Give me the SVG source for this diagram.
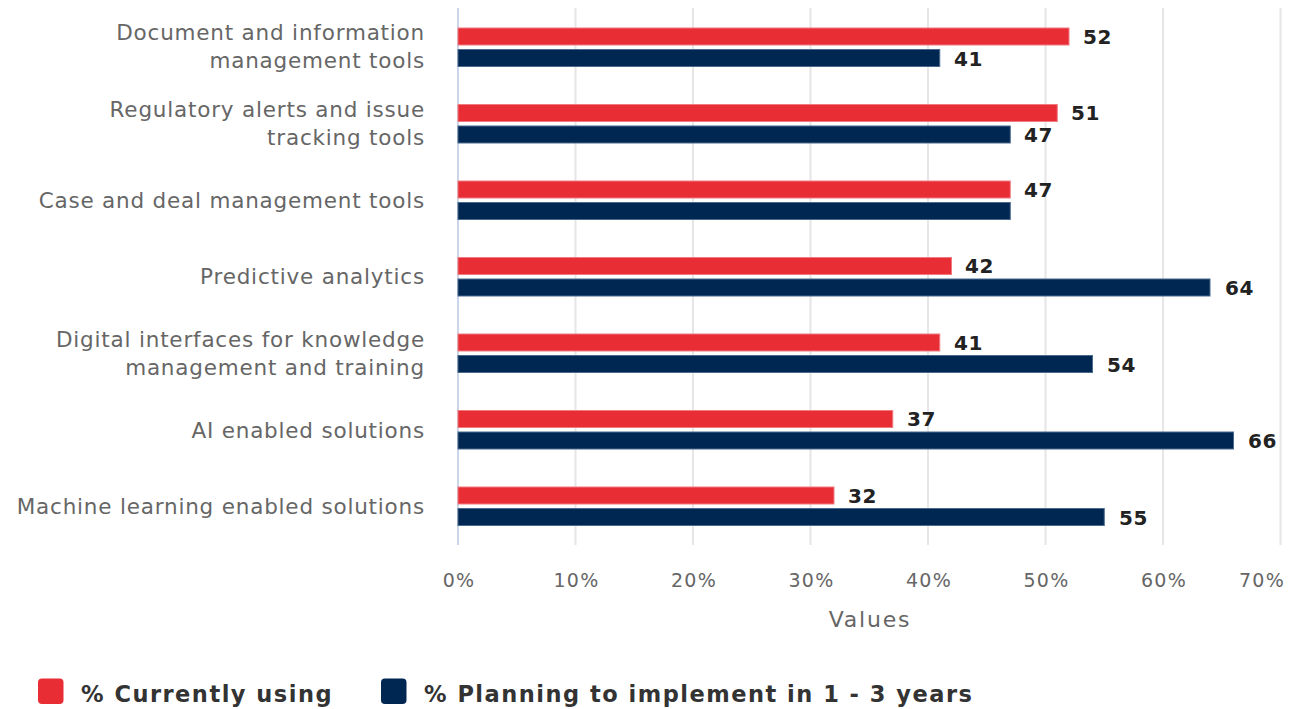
<svg xmlns="http://www.w3.org/2000/svg" width="1305" height="709" viewBox="0 0 1305 709">
<style>
.grid{stroke:#e6e6e6;stroke-width:2}
.axis{stroke:#ccd6eb;stroke-width:2}
.cat{font-family:"DejaVu Sans",sans-serif;font-size:21.5px;letter-spacing:0.8px;fill:#666;text-anchor:end}
.tick{font-family:"DejaVu Sans",sans-serif;font-size:19px;letter-spacing:1.2px;fill:#666;text-anchor:middle}
.title{font-family:"DejaVu Sans",sans-serif;font-size:22px;letter-spacing:1.8px;fill:#666;text-anchor:middle}
.val{font-family:"DejaVu Sans",sans-serif;font-size:20px;letter-spacing:0.6px;font-weight:bold;fill:#222}
.leg{font-family:"DejaVu Sans",sans-serif;font-size:22.5px;letter-spacing:1.5px;font-weight:bold;fill:#333}
.red{fill:#e92d35;stroke:#f07a80;stroke-width:1}
.blue{fill:#002652;stroke:#4a6a8f;stroke-width:1}
</style>
<rect width="1305" height="709" fill="#fff"/>
<g id="grid">
<line class="grid" x1="575.5" y1="8" x2="575.5" y2="545"/>
<line class="grid" x1="693" y1="8" x2="693" y2="545"/>
<line class="grid" x1="810.5" y1="8" x2="810.5" y2="545"/>
<line class="grid" x1="928" y1="8" x2="928" y2="545"/>
<line class="grid" x1="1045.5" y1="8" x2="1045.5" y2="545"/>
<line class="grid" x1="1163" y1="8" x2="1163" y2="545"/>
<line class="grid" x1="1280.5" y1="8" x2="1280.5" y2="545"/>
<line class="axis" x1="458" y1="8" x2="458" y2="545"/>
</g>
<g id="categories">
<text class="cat" x="425" y="40">Document and information</text>
<text class="cat" x="425" y="68">management tools</text>
<text class="cat" x="425" y="117">Regulatory alerts and issue</text>
<text class="cat" x="425" y="145">tracking tools</text>
<text class="cat" x="425" y="208">Case and deal management tools</text>
<text class="cat" x="425" y="284">Predictive analytics</text>
<text class="cat" x="425" y="347">Digital interfaces for knowledge</text>
<text class="cat" x="425" y="375">management and training</text>
<text class="cat" x="425" y="438">AI enabled solutions</text>
<text class="cat" x="425" y="514">Machine learning enabled solutions</text>
</g>
<g id="bars">
<rect class="red" x="458" y="28" width="611" height="17"/>
<rect class="blue" x="458" y="49.5" width="481.75" height="17"/>
<rect class="red" x="458" y="104.5" width="599.25" height="17"/>
<rect class="blue" x="458" y="126" width="552.25" height="17"/>
<rect class="red" x="458" y="181" width="552.25" height="17"/>
<rect class="blue" x="458" y="202.5" width="552.25" height="17"/>
<rect class="red" x="458" y="257.5" width="493.5" height="17"/>
<rect class="blue" x="458" y="279" width="752" height="17"/>
<rect class="red" x="458" y="334" width="481.75" height="17"/>
<rect class="blue" x="458" y="355.5" width="634.5" height="17"/>
<rect class="red" x="458" y="410.5" width="434.75" height="17"/>
<rect class="blue" x="458" y="432" width="775.5" height="17"/>
<rect class="red" x="458" y="487" width="376" height="17"/>
<rect class="blue" x="458" y="508.5" width="646.25" height="17"/>
</g>
<g id="values">
<text class="val" x="1083" y="44">52</text>
<text class="val" x="954" y="66">41</text>
<text class="val" x="1071" y="120">51</text>
<text class="val" x="1024" y="142">47</text>
<text class="val" x="1024" y="197">47</text>
<text class="val" x="965" y="273">42</text>
<text class="val" x="1225" y="295">64</text>
<text class="val" x="954" y="350">41</text>
<text class="val" x="1107" y="372">54</text>
<text class="val" x="907" y="426">37</text>
<text class="val" x="1248" y="448">66</text>
<text class="val" x="848" y="503">32</text>
<text class="val" x="1119" y="525">55</text>
</g>
<g id="xaxis">
<text class="tick" x="459" y="587">0%</text>
<text class="tick" x="576.5" y="587">10%</text>
<text class="tick" x="694" y="587">20%</text>
<text class="tick" x="811.5" y="587">30%</text>
<text class="tick" x="929" y="587">40%</text>
<text class="tick" x="1046.5" y="587">50%</text>
<text class="tick" x="1164" y="587">60%</text>
<text class="tick" x="1262" y="587">70%</text>
<text class="title" x="870" y="627">Values</text>
</g>
<g id="legend">
<rect x="38" y="678.5" width="25.5" height="25.5" rx="4" fill="#e92d35"/>
<text class="leg" x="81" y="702">% Currently using</text>
<rect x="381" y="678.5" width="25.5" height="25.5" rx="4" fill="#002652"/>
<text class="leg" x="424" y="702">% Planning to implement in 1 - 3 years</text>
</g>
</svg>
